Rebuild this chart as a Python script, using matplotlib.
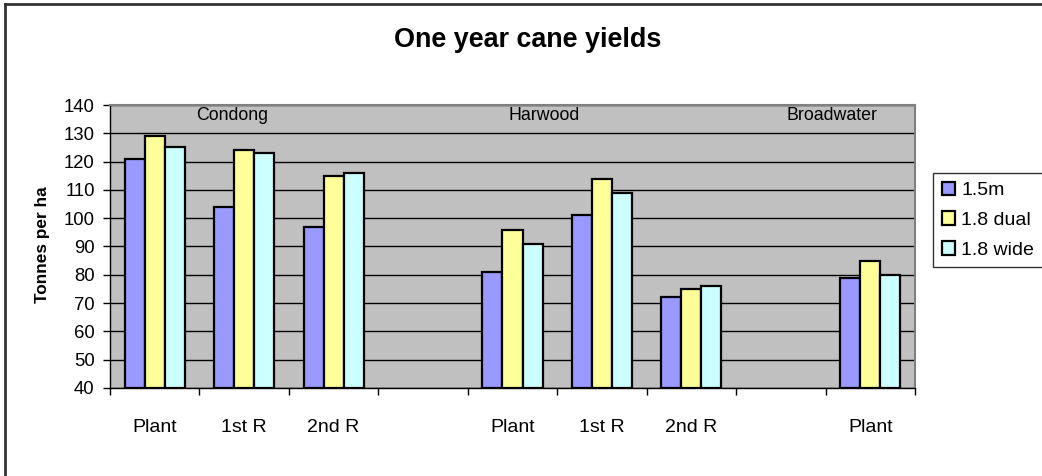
import matplotlib
matplotlib.use("Agg")
import matplotlib.pyplot as plt
import numpy as np
from matplotlib.lines import Line2D

plt.rcParams['font.family'] = ['Liberation Sans', 'DejaVu Sans']

categories = ["Plant", "1st R", "2nd R", "", "Plant", "1st R", "2nd R", "", "Plant"]
series_names = ["1.5m", "1.8 dual", "1.8 wide"]
s_15m = [121, 104, 97, np.nan, 81, 101, 72, np.nan, 79]
s_18dual = [129, 124, 115, np.nan, 96, 114, 75, np.nan, 85]
s_18wide = [125, 123, 116, np.nan, 91, 109, 76, np.nan, 80]
region_labels = ["Condong", "Harwood", "Broadwater"]
region_x = [0.87, 4.35, 7.57]
yticks = [40, 50, 60, 70, 80, 90, 100, 110, 120, 130, 140]

colors = ["#9999FF", "#FFFF99", "#CCFFFF"]

fig = plt.figure(figsize=(10.42, 4.76), dpi=100)
ax = fig.add_axes([110/1042, 1-388/476, (915-110)/1042, (388-105)/476])
ax.set_facecolor("#C0C0C0")

x = np.arange(len(categories))
w = 0.224
for i, (vals, name, c) in enumerate(zip([s_15m, s_18dual, s_18wide], series_names, colors)):
    ax.bar(x + (i-1)*w, np.array(vals, dtype=float) - 40, w, bottom=40, color=c,
           edgecolor="black", linewidth=1.6, label=name, zorder=3)

ax.set_ylim(40, 140)
ax.set_xlim(-0.5, len(categories)-0.5)
ax.set_yticks(yticks)
ax.yaxis.grid(True, color="black", linewidth=1, zorder=1)
ax.set_axisbelow(True)
ax.tick_params(axis='y', labelsize=13.3, length=5, width=1, pad=6, direction='out')
ax.set_xticks(x)
ax.set_xticklabels(categories)
ax.tick_params(axis='x', which='major', length=0, labelsize=14, pad=22)
ax.set_xticks(np.arange(len(categories)+1)-0.5, minor=True)
ax.tick_params(axis='x', which='minor', length=5, width=1, direction='out')

for s in ['left', 'bottom']:
    ax.spines[s].set_color('black')
    ax.spines[s].set_linewidth(1)
for s in ['top', 'right']:
    ax.spines[s].set_color('#808080')
    ax.spines[s].set_linewidth(1.5)

for lab, rx in zip(region_labels, region_x):
    ax.text(rx, 136.3, lab, ha='center', va='center', fontsize=12.8, zorder=4)

fig.text(528/1042, 1-40/476, "One year cane yields", ha='center', va='center',
         fontsize=19.4, fontweight='bold')
fig.text(42/1042, 1-245/476, "Tonnes per ha", ha='center', va='center',
         rotation=90, fontsize=12.4, fontweight='bold')

leg = fig.legend(loc='upper left', bbox_to_anchor=(933/1042, 1-173/476),
                 fontsize=14, frameon=True, fancybox=False, handlelength=0.7,
                 handleheight=0.7, handletextpad=0.3, labelspacing=0.62,
                 borderpad=0.45, borderaxespad=0)
leg.get_frame().set_edgecolor('black')
leg.get_frame().set_linewidth(1)

fig.add_artist(Line2D([5/1042, 1], [1-4/476, 1-4/476], color='#333333', linewidth=2))
fig.add_artist(Line2D([5/1042, 5/1042], [0, 1-4/476], color='#333333', linewidth=2))

fig.savefig("out.png", dpi=100)
